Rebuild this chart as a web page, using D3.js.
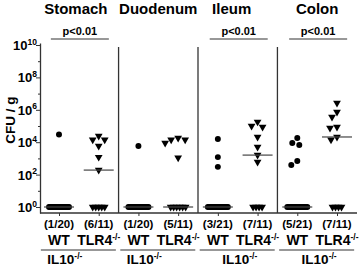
<!DOCTYPE html>
<html>
<head>
<meta charset="utf-8">
<script src="https://cdn.jsdelivr.net/npm/d3@7"></script>
<style>
  body { margin: 0; background: #fff; }
  text { font-family: "Liberation Sans", Arial, sans-serif; font-weight: bold; fill: #000; }
</style>
</head>
<body>
<div class="chart"></div>
<script>
const organs = ["Stomach", "Duodenum", "Ileum", "Colon"];
const genotypes = ["WT", "TLR4"];

// CFU / g per mouse, culture-negative mice plotted at 10^0
const stomachWT = [3e4, 1, 1, 1, 1, 1, 1, 1, 1, 1, 1, 1, 1, 1, 1, 1, 1, 1, 1, 1];
const stomachTLR4 = [2.4e4, 1.4e4, 1.4e4, 5.8e3, 1.2e3, 1.9e2, 1, 1, 1, 1, 1];
const duodenumWT = [5.8e3, 1, 1, 1, 1, 1, 1, 1, 1, 1, 1, 1, 1, 1, 1, 1, 1, 1, 1, 1];
const duodenumTLR4 = [1.8e4, 1.4e4, 1.4e4, 9e3, 1.1e3, 1, 1, 1, 1, 1, 1];
const ileumWT = [1.6e4, 1.2e3, 3e2, 1, 1, 1, 1, 1, 1, 1, 1, 1, 1, 1, 1, 1, 1, 1, 1, 1, 1];
const ileumTLR4 = [1.8e5, 1e5, 8.7e4, 2.1e4, 5e3, 1.6e3, 6e2, 1, 1, 1, 1];
const colonWT = [1.8e4, 8.9e3, 6.7e3, 6.9e2, 3.9e2, 1, 1, 1, 1, 1, 1, 1, 1, 1, 1, 1, 1, 1, 1, 1, 1];
const colonTLR4 = [2.6e6, 7.3e5, 3.6e5, 8.7e4, 7.5e4, 2.1e4, 1.4e4, 1, 1, 1, 1];

const pValues = ["p<0.01", null, "p<0.01", "p<0.01"];
const yTickExps = [0, 2, 4, 6, 8, 10];

const groups = [
  { organ: "Stomach", geno: "WT", values: stomachWT },
  { organ: "Stomach", geno: "TLR4", values: stomachTLR4 },
  { organ: "Duodenum", geno: "WT", values: duodenumWT },
  { organ: "Duodenum", geno: "TLR4", values: duodenumTLR4 },
  { organ: "Ileum", geno: "WT", values: ileumWT },
  { organ: "Ileum", geno: "TLR4", values: ileumTLR4 },
  { organ: "Colon", geno: "WT", values: colonWT },
  { organ: "Colon", geno: "TLR4", values: colonTLR4 }
];
groups.forEach(g => (g.key = g.organ + "|" + g.geno));

const w = 359;
const h = 267;

const svg = d3.select(".chart").append("svg").attr("width", w).attr("height", h);

// scales
const x = d3.scalePoint().domain(groups.map(g => g.key)).range([59, 337]);
const y = d3.scaleLog()
  .domain([Math.pow(10, -6 / 16.2), Math.pow(10, 10 + 2 / 16.2)])
  .range([213, 43]);

const panelCenter = o => (x(o + "|WT") + x(o + "|TLR4")) / 2;

// y axis
const yAxis = d3.axisLeft(y)
  .tickValues(yTickExps.map(e => Math.pow(10, e)))
  .tickSize(4)
  .tickSizeOuter(0)
  .tickFormat("");
const yAxisGroup = svg.append("g").attr("transform", "translate(40,0)").call(yAxis);
yAxisGroup.select(".domain").attr("stroke", "#333").attr("stroke-width", 1.3);
yAxisGroup.selectAll(".tick line").attr("stroke", "#333");

// minor ticks on odd decades
const minorAxis = d3.axisLeft(y)
  .tickValues(yTickExps.slice(0, -1).map(e => Math.pow(10, e + 1)))
  .tickSize(2)
  .tickFormat("");
const minorGroup = svg.append("g").attr("transform", "translate(40,0)").call(minorAxis);
minorGroup.select(".domain").remove();
minorGroup.selectAll(".tick line").attr("stroke", "#333");

// tick labels 10^n
yTickExps.forEach(e => {
  const t = svg.append("text")
    .attr("x", 37)
    .attr("y", y(Math.pow(10, e)) + 5)
    .attr("text-anchor", "end")
    .style("font-size", "13px");
  t.append("tspan").text("10");
  t.append("tspan").attr("dy", -5.5).style("font-size", "8.5px").text(e);
});

svg.append("text")
  .attr("transform", "translate(15,120) rotate(-90)")
  .attr("text-anchor", "middle")
  .style("font-size", "13.5px")
  .text("CFU / g");

// baseline and x ticks
const xAxis = d3.axisBottom(x).tickSize(3).tickSizeOuter(0).tickFormat("");
const xAxisGroup = svg.append("g").attr("transform", "translate(0,213)").call(xAxis);
xAxisGroup.select(".domain").attr("d", "M40,0H357").attr("stroke", "#333").attr("stroke-width", 1.3);
xAxisGroup.selectAll(".tick line").attr("stroke", "#333");

// panel separators
organs.slice(1).forEach((o, i) => {
  const sx = (x(organs[i] + "|TLR4") + x(o + "|WT")) / 2;
  svg.append("line")
    .attr("x1", sx).attr("x2", sx)
    .attr("y1", 47).attr("y2", 213)
    .attr("stroke", "#333").attr("stroke-width", 1.3);
});

// organ titles and p-values
organs.forEach((o, i) => {
  const cx = panelCenter(o);
  svg.append("text")
    .attr("x", i === 0 ? cx - 3 : i === 2 ? cx - 6 : cx).attr("y", 14)
    .attr("text-anchor", "middle")
    .style("font-size", "15px")
    .text(o);
  if (pValues[i]) {
    svg.append("line")
      .attr("x1", cx - 28).attr("x2", cx + 30)
      .attr("y1", 39).attr("y2", 39)
      .attr("stroke", "#333").attr("stroke-width", 1.2);
    svg.append("text")
      .attr("x", cx + 1).attr("y", 35)
      .attr("text-anchor", "middle")
      .style("font-size", "11px")
      .text(pValues[i]);
  }
});

// simple beeswarm: negatives squeezed in a row, positives pushed sideways on collision
function swarm(values, cx) {
  const pts = [];
  const ones = values.filter(v => v === 1);
  const span = Math.min((ones.length - 1) * 3, 20);
  const step = ones.length > 1 ? span / (ones.length - 1) : 0;
  ones.forEach((v, i) => pts.push({ v, x: cx - span / 2 + i * step, y: y(v) }));
  const placed = [];
  values.filter(v => v !== 1).sort((a, b) => b - a).forEach(v => {
    const py = y(v);
    for (let k = 0; k < 40; k++) {
      const dx = k % 2 === 0 ? k / 2 : -(k + 1) / 2;
      const ok = placed.every(p => Math.hypot(p.x - (cx + dx), p.y - py) >= 6.5);
      if (ok) {
        placed.push({ v, x: cx + dx, y: py });
        break;
      }
    }
  });
  return pts.concat(placed);
}

const circle = d3.symbol().type(d3.symbolCircle).size(28);
const tri = d3.symbol().type(d3.symbolTriangle).size(26);

groups.forEach(g => {
  const cx = x(g.key);
  const pts = swarm(g.values, cx);
  svg.append("g")
    .selectAll("path")
    .data(pts)
    .enter()
    .append("path")
    .attr("d", g.geno === "WT" ? circle : tri)
    .attr("transform", d =>
      `translate(${d.x},${d.y})` + (g.geno === "WT" ? "" : " rotate(180)"))
    .attr("fill", "#000");

  // median line
  const med = d3.median(g.values);
  svg.append("line")
    .attr("x1", cx - 15).attr("x2", cx + 15)
    .attr("y1", y(med)).attr("y2", y(med))
    .attr("stroke", "#444").attr("stroke-width", 1.2);

  // positive / total label
  const pos = g.values.filter(v => v > 1).length;
  svg.append("text")
    .attr("x", cx).attr("y", 228)
    .attr("text-anchor", "middle")
    .style("font-size", "11.5px")
    .text(`(${pos}/${g.values.length})`);

  const gl = svg.append("text")
    .attr("x", cx).attr("y", 245)
    .attr("text-anchor", "middle")
    .style("font-size", "14px");
  gl.append("tspan").text(g.geno);
  if (g.geno !== "WT") {
    gl.append("tspan").attr("dy", -5.5).style("font-size", "8.5px").text("-/-");
  }
});

// IL10-/- brackets under each pair
organs.forEach((o, i) => {
  const cx = panelCenter(o);
  svg.append("line")
    .attr("x1", cx - 38).attr("x2", cx + 37)
    .attr("y1", 250).attr("y2", 250)
    .attr("stroke", "#333").attr("stroke-width", 1.2);
  const t = svg.append("text")
    .attr("x", i < 2 ? cx - 14 : cx + 2).attr("y", 264)
    .attr("text-anchor", "middle")
    .style("font-size", "13.5px");
  t.append("tspan").text("IL10");
  t.append("tspan").attr("dy", -5.5).style("font-size", "8.5px").text("-/-");
});
</script>
</body>
</html>
